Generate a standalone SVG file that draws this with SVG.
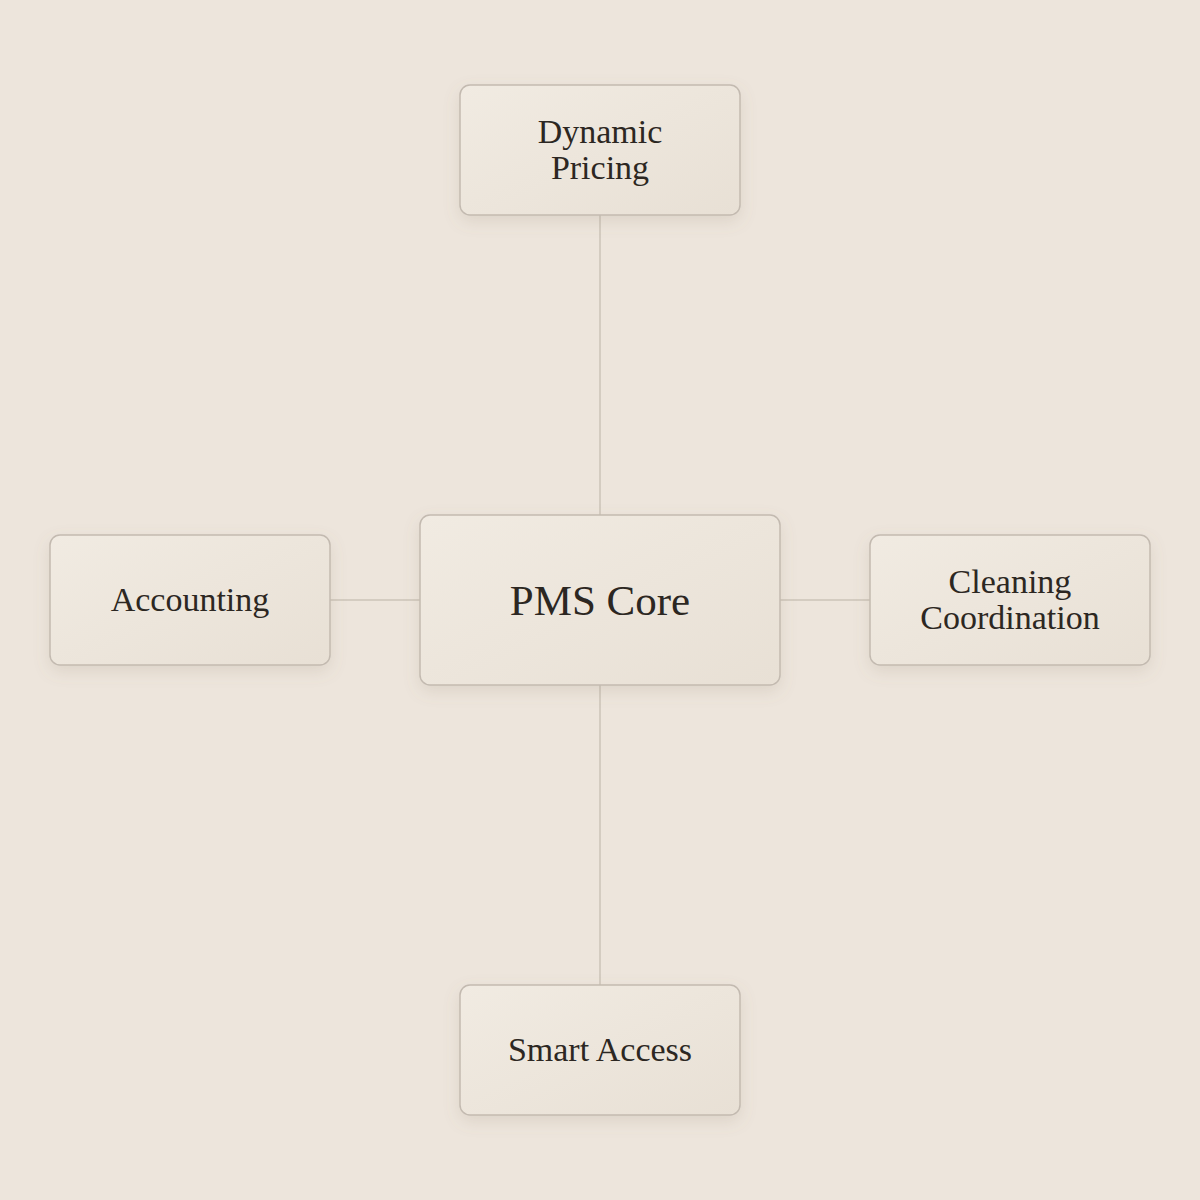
<svg xmlns="http://www.w3.org/2000/svg" width="1200" height="1200" viewBox="0 0 1200 1200">
<defs>
<linearGradient id="nodeFill" x1="0" y1="0" x2="1" y2="1">
<stop offset="0" stop-color="#f1ebe2"/>
<stop offset="1" stop-color="#e8e0d5"/>
</linearGradient>
<filter id="shadow" x="-20%" y="-20%" width="140%" height="150%">
<feDropShadow dx="0" dy="6" stdDeviation="8" flood-color="#8a7a66" flood-opacity="0.16"/>
</filter>
<style>
.box{fill:url(#nodeFill);stroke:#c3bab0;stroke-width:1.5;filter:url(#shadow)}
.lbl{font-family:"Liberation Serif","DejaVu Serif",serif;fill:#2c2722;text-anchor:middle}
.sm{font-size:34px}
.lg{font-size:43px}
.conn{stroke:#cbc3b9;stroke-width:1.5;fill:none}
</style>
</defs>
<rect width="1200" height="1200" fill="#ede5dc"/>
<g id="connectors">
<line class="conn" x1="600" y1="215" x2="600" y2="515"/>
<line class="conn" x1="600" y1="685" x2="600" y2="985"/>
<line class="conn" x1="330" y1="600" x2="420" y2="600"/>
<line class="conn" x1="780" y1="600" x2="870" y2="600"/>
</g>
<g id="pms-core">
<rect class="box" x="420" y="515" width="360" height="170" rx="10"/>
<text class="lbl lg" x="600" y="615">PMS Core</text>
</g>
<g id="dynamic-pricing">
<rect class="box" x="460" y="85" width="280" height="130" rx="10"/>
<text class="lbl sm" x="600" y="143">Dynamic</text>
<text class="lbl sm" x="600" y="179">Pricing</text>
</g>
<g id="accounting">
<rect class="box" x="50" y="535" width="280" height="130" rx="10"/>
<text class="lbl sm" x="190" y="611">Accounting</text>
</g>
<g id="cleaning-coordination">
<rect class="box" x="870" y="535" width="280" height="130" rx="10"/>
<text class="lbl sm" x="1010" y="593">Cleaning</text>
<text class="lbl sm" x="1010" y="629">Coordination</text>
</g>
<g id="smart-access">
<rect class="box" x="460" y="985" width="280" height="130" rx="10"/>
<text class="lbl sm" x="600" y="1061">Smart Access</text>
</g>
</svg>
